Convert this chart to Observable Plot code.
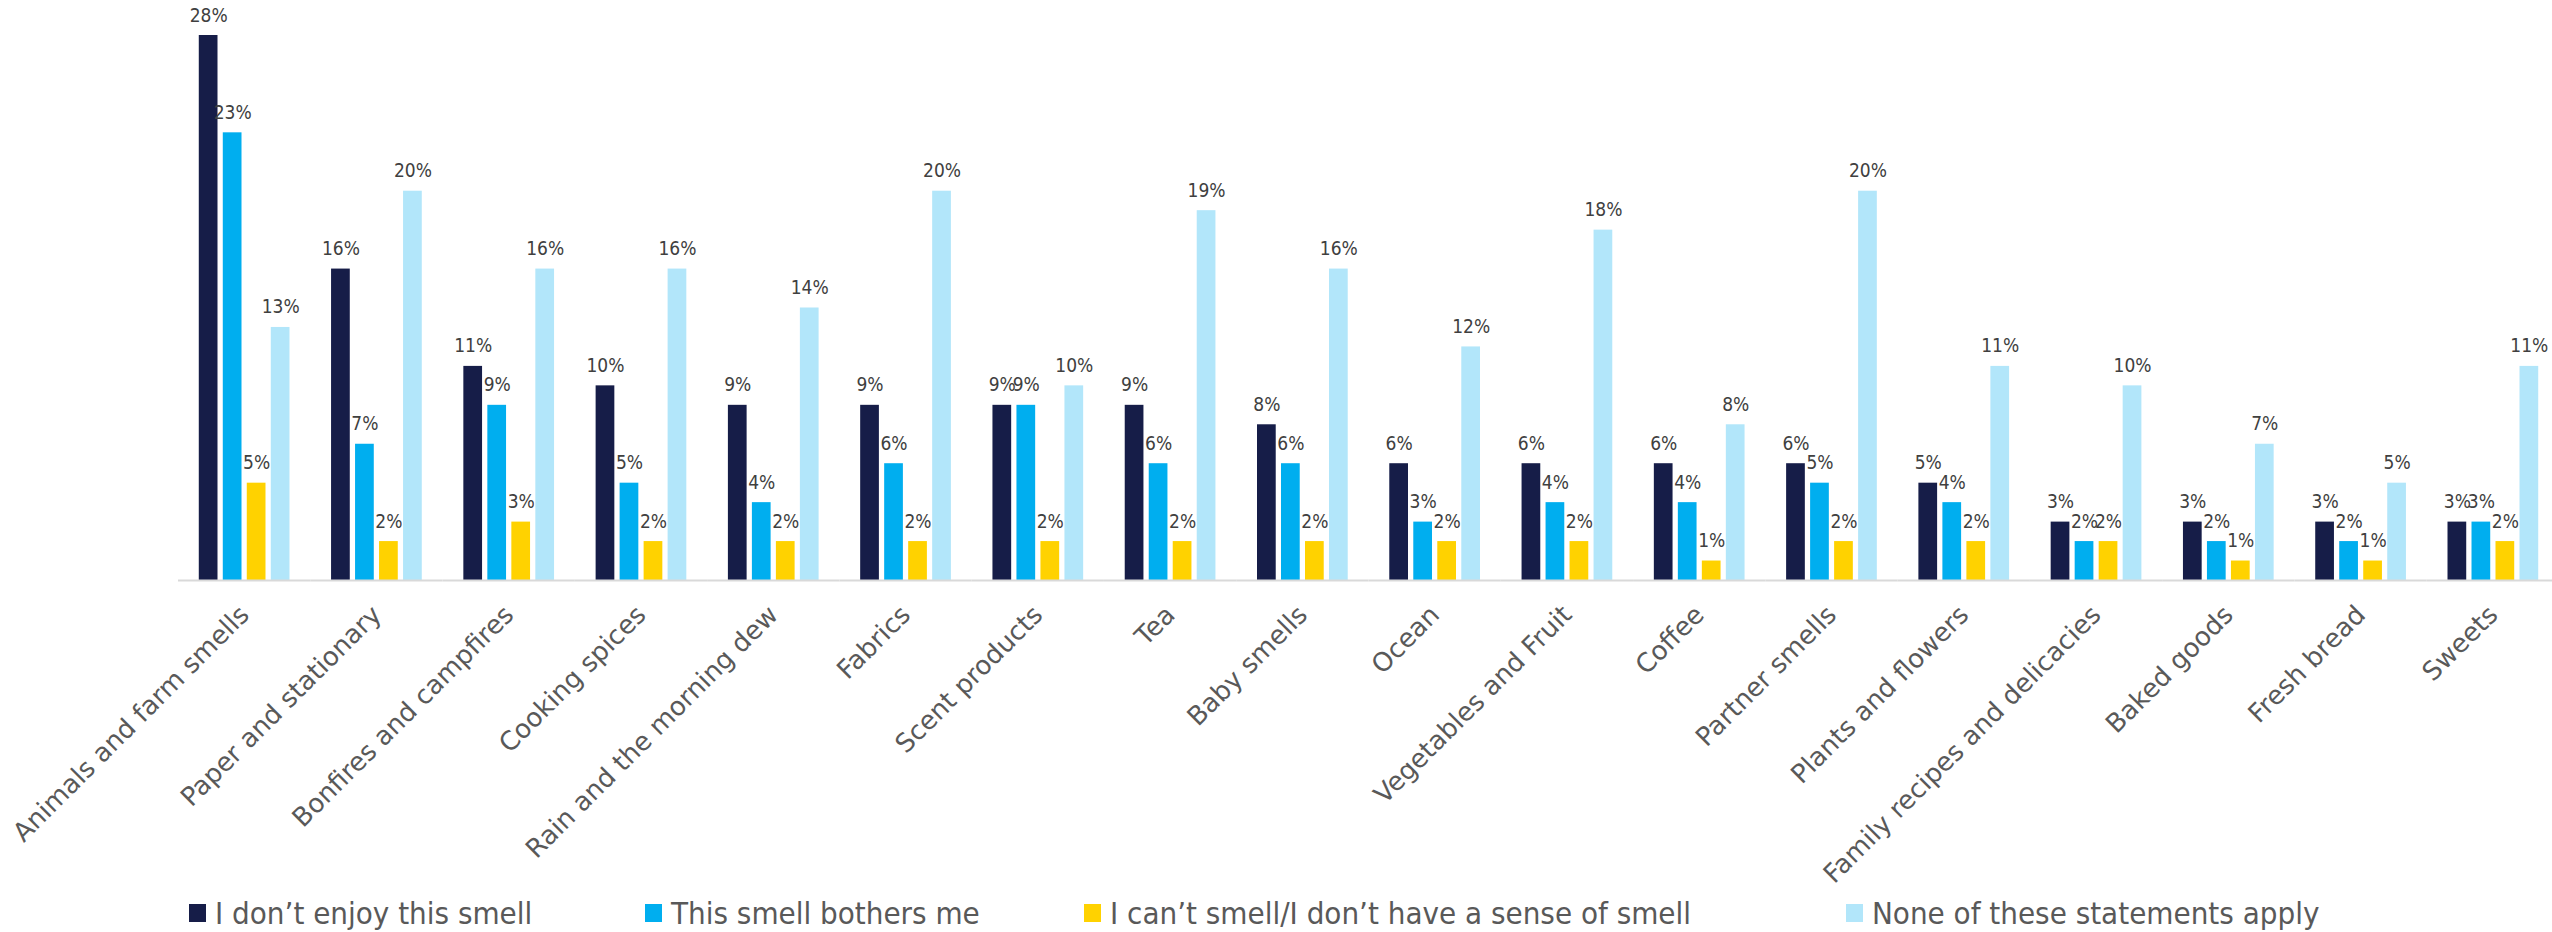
<!DOCTYPE html>
<html>
<head>
<meta charset="utf-8">
<script src="https://cdn.jsdelivr.net/npm/d3@7"></script>
<script src="https://cdn.jsdelivr.net/npm/@observablehq/plot@0.6"></script>
<style>
  html, body { margin: 0; padding: 0; background: #ffffff; }
  #wrap { position: relative; width: 2552px; height: 932px; overflow: hidden; }
  #legend { position: absolute; left: 0; top: 893px; width: 2552px; height: 40px; }
  .item { position: absolute; top: 0; height: 40px; display: flex; align-items: center;
          font-family: "DejaVu Sans Condensed", "DejaVu Sans", sans-serif; font-size: 31px;
          color: #595959; white-space: nowrap; }
  .sw { width: 17px; height: 18px; margin-right: 9px; flex: none; }
</style>
</head>
<body>
<div id="wrap"><div id="chart"></div><div id="legend"></div></div>
<script>
const categories = [
  "Animals and farm smells", "Paper and stationary", "Bonfires and campfires", "Cooking spices",
  "Rain and the morning dew", "Fabrics", "Scent products", "Tea", "Baby smells", "Ocean",
  "Vegetables and Fruit", "Coffee", "Partner smells", "Plants and flowers",
  "Family recipes and delicacies", "Baked goods", "Fresh bread", "Sweets"
];
const seriesNames = [
  "I don’t enjoy this smell",
  "This smell bothers me",
  "I can’t smell/I don’t have a sense of smell",
  "None of these statements apply"
];
const dontEnjoy  = [28, 16, 11, 10, 9, 9, 9, 9, 8, 6, 6, 6, 6, 5, 3, 3, 3, 3];
const bothersMe  = [23, 7, 9, 5, 4, 6, 9, 6, 6, 3, 4, 4, 5, 4, 2, 2, 2, 3];
const cantSmell  = [5, 2, 3, 2, 2, 2, 2, 2, 2, 2, 2, 1, 2, 2, 2, 1, 1, 2];
const noneApply  = [13, 20, 16, 16, 14, 20, 10, 19, 16, 12, 18, 8, 20, 11, 10, 7, 5, 11];

const seriesColors = ["#161d48", "#00aeef", "#ffd200", "#b2e6fa"];
const legendLeft = [189, 645, 1084, 1846];

const seriesValues = [dontEnjoy, bothersMe, cantSmell, noneApply];
const table = [];
categories.forEach((c, i) => {
  seriesNames.forEach((s, j) => {
    table.push({category: c, series: s, value: seriesValues[j][i]});
  });
});

const chart = Plot.plot({
  width: 2552,
  height: 932,
  marginTop: 35,
  marginBottom: 352,
  marginLeft: 178,
  marginRight: -7,
  style: {background: "transparent", overflow: "visible"},
  fx: {domain: categories, padding: 0, round: false, label: null},
  x: {domain: seriesNames, paddingInner: 0.22, paddingOuter: 0.866, round: false, axis: null},
  y: {domain: [0, 28], axis: null},
  color: {domain: seriesNames, range: seriesColors},
  marks: [
    Plot.barY(table, {fx: "category", x: "series", y: "value", fill: "series"}),
    Plot.ruleY([0], {stroke: "#d9d9d9", strokeWidth: 2}),
    Plot.text(table, {
      fx: "category", x: "series", y: "value",
      text: d => d.value + "%",
      lineAnchor: "bottom", dy: -14,
      fontSize: 19, fill: "#404040",
      fontFamily: "DejaVu Sans Condensed, DejaVu Sans, sans-serif"
    }),
    Plot.axisFx({
      anchor: "bottom", tickRotate: -45, tickSize: 0, tickPadding: 30,
      fontSize: 26, label: null, fill: "#595959",
      fontFamily: "DejaVu Sans, sans-serif"
    })
  ]
});
chart.style.fontFamily = "DejaVu Sans, sans-serif";
document.getElementById("chart").appendChild(chart);

const legend = document.getElementById("legend");
seriesNames.forEach((s, j) => {
  const item = document.createElement("div");
  item.className = "item";
  item.style.left = legendLeft[j] + "px";
  const sw = document.createElement("span");
  sw.className = "sw";
  sw.style.background = seriesColors[j];
  const t = document.createElement("span");
  t.textContent = s;
  item.appendChild(sw);
  item.appendChild(t);
  legend.appendChild(item);
});
</script>
</body>
</html>
